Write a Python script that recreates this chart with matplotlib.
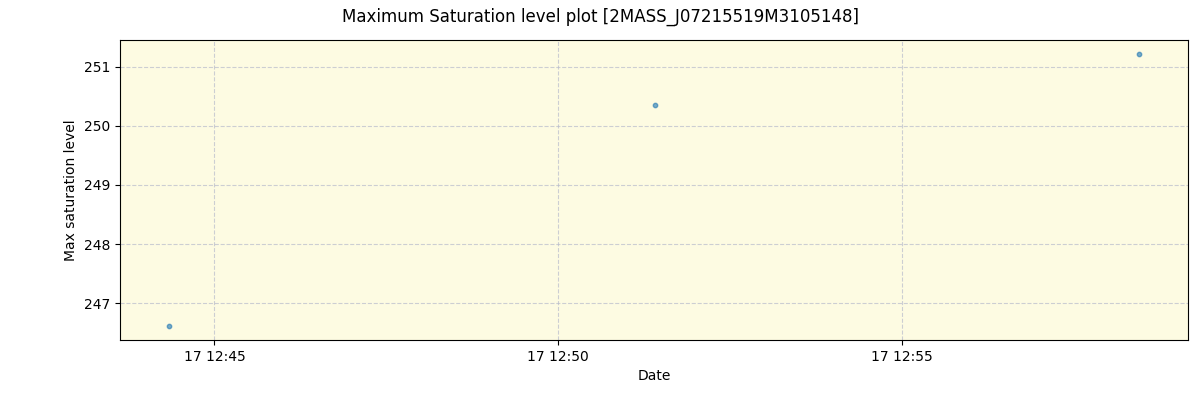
import matplotlib
matplotlib.use("Agg")
import matplotlib.pyplot as plt
import matplotlib.dates as mdates
import pandas as pd

# observation times and max saturation values
dates = pd.to_datetime(["2021-01-17 12:44:20", "2021-01-17 12:51:24", "2021-01-17 12:58:27"])
levels = [246.61, 250.356, 251.22]

fig, ax = plt.subplots(figsize=(12, 4), dpi=100)
fig.subplots_adjust(left=0.1, right=0.99, top=0.9, bottom=0.15)
ax.set_facecolor("#fdfbe2")
ax.scatter(dates, levels, s=10, alpha=0.6, zorder=3)
ax.grid(True, linestyle="--", color="#b8bccc", alpha=0.7, linewidth=0.8)
ax.xaxis.set_major_locator(mdates.MinuteLocator(byminute=range(0, 60, 5)))
ax.xaxis.set_major_formatter(mdates.DateFormatter("%d %H:%M"))
ax.set_xlabel("Date")
ax.set_ylabel("Max saturation level")
fig.suptitle("Maximum Saturation level plot [2MASS_J07215519M3105148]")
fig.savefig("out.png")
